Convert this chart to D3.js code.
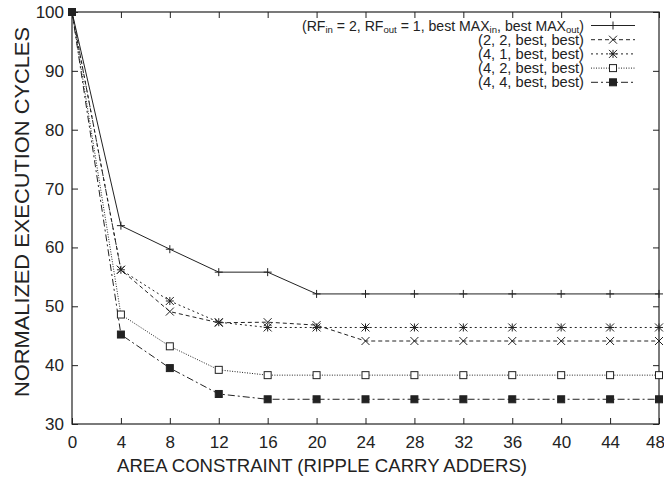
<!DOCTYPE html>
<html>
<head>
<meta charset="utf-8">
<script src="https://cdn.jsdelivr.net/npm/d3@7"></script>
<style>
  body { margin: 0; background: #fff; }
  text, tspan { font-family: "Liberation Sans", Arial, sans-serif; fill: #222; }
</style>
</head>
<body>
<div id="viz"></div>
<script>
var areaValues = [0, 4, 8, 12, 16, 20, 24, 28, 32, 36, 40, 44, 48];
var yTicks = [30, 40, 50, 60, 70, 80, 90, 100];

var rf21 = [100, 63.7, 59.7, 55.8, 55.8, 52.1, 52.1, 52.1, 52.1, 52.1, 52.1, 52.1, 52.1];
var rf22 = [100, 56.2, 49.1, 47.2, 47.3, 46.8, 44.1, 44.1, 44.1, 44.1, 44.1, 44.1, 44.1];
var rf41 = [100, 56.2, 50.9, 47.3, 46.4, 46.4, 46.4, 46.4, 46.4, 46.4, 46.4, 46.4, 46.4];
var rf42 = [100, 48.6, 43.2, 39.2, 38.3, 38.3, 38.3, 38.3, 38.3, 38.3, 38.3, 38.3, 38.3];
var rf44 = [100, 45.2, 39.5, 35.1, 34.2, 34.2, 34.2, 34.2, 34.2, 34.2, 34.2, 34.2, 34.2];

var seriesNames = ["rf21", "rf22", "rf41", "rf42", "rf44"];
var legendLabels = [null, "(2, 2, best, best)", "(4, 1, best, best)", "(4, 2, best, best)", "(4, 4, best, best)"];

var w = 664, h = 480;
var margin = {left: 72, right: 5, top: 12, bottom: 56};
var ink = "#222";

var svg = d3.select("#viz").append("svg")
    .attr("width", w)
    .attr("height", h);

var x = d3.scaleLinear().domain([0, 48]).range([margin.left, w - margin.right]);
var y = d3.scaleLinear().domain([30, 100]).range([h - margin.bottom, margin.top]);

var styles = [
    {dash: null, marker: "plus"},
    {dash: "4,3", marker: "cross"},
    {dash: "2,3", marker: "star"},
    {dash: "1,1.5", marker: "square"},
    {dash: "7,3,2,3", marker: "filled"}
];

var allSeries = [rf21, rf22, rf41, rf42, rf44].map(function(vals, i) {
    return {name: seriesNames[i], style: styles[i], points: vals.map(function(v, j) { return {x: areaValues[j], y: v}; })};
});

// frame
svg.append("rect")
    .attr("x", x(0)).attr("y", y(100))
    .attr("width", x(48) - x(0)).attr("height", y(30) - y(100))
    .attr("fill", "none").attr("stroke", ink).attr("stroke-width", 1.2);

// axes with inward ticks
var tickLen = 6;
var axBottom = svg.append("g").attr("transform", "translate(0," + y(30) + ")")
    .call(d3.axisBottom(x).tickValues(areaValues).tickSize(-tickLen).tickPadding(tickLen + 6));
var axTop = svg.append("g").attr("transform", "translate(0," + y(100) + ")")
    .call(d3.axisTop(x).tickValues(areaValues).tickSize(-tickLen).tickFormat(""));
var axLeft = svg.append("g").attr("transform", "translate(" + x(0) + ",0)")
    .call(d3.axisLeft(y).tickValues(yTicks).tickSize(-tickLen).tickPadding(tickLen + 2));
var axRight = svg.append("g").attr("transform", "translate(" + x(48) + ",0)")
    .call(d3.axisRight(y).tickValues(yTicks).tickSize(-tickLen).tickFormat(""));

[axBottom, axTop, axLeft, axRight].forEach(function(g) {
    g.select(".domain").remove();
    g.selectAll(".tick line").attr("stroke", ink);
    g.selectAll(".tick text").attr("font-size", 17).attr("fill", ink)
        .style("font-family", "'Liberation Sans', Arial, sans-serif");
});
// keep the last x label inside the page
axBottom.selectAll(".tick text").filter(function(d) { return d === 48; }).attr("dx", -4);

// axis titles
svg.append("text")
    .attr("x", 322).attr("y", 472)
    .attr("text-anchor", "middle").attr("font-size", 19)
    .attr("textLength", 410).attr("lengthAdjust", "spacingAndGlyphs")
    .text("AREA CONSTRAINT (RIPPLE CARRY ADDERS)");

svg.append("text")
    .attr("transform", "translate(29,212) rotate(-90)")
    .attr("text-anchor", "middle").attr("font-size", 20)
    .attr("textLength", 370).attr("lengthAdjust", "spacingAndGlyphs")
    .text("NORMALIZED EXECUTION CYCLES");

// markers
function drawMarker(g, type, cx, cy) {
    var s = 4;
    if (type === "plus" || type === "star") {
        g.append("line").attr("x1", cx - s).attr("x2", cx + s).attr("y1", cy).attr("y2", cy);
        g.append("line").attr("x1", cx).attr("x2", cx).attr("y1", cy - s).attr("y2", cy + s);
    }
    if (type === "cross" || type === "star") {
        g.append("line").attr("x1", cx - s).attr("x2", cx + s).attr("y1", cy - s).attr("y2", cy + s);
        g.append("line").attr("x1", cx - s).attr("x2", cx + s).attr("y1", cy + s).attr("y2", cy - s);
    }
    if (type === "square") {
        g.append("rect").attr("x", cx - 3.5).attr("y", cy - 3.5).attr("width", 7).attr("height", 7)
            .attr("fill", "#fff");
    }
    if (type === "filled") {
        g.append("rect").attr("x", cx - 3.5).attr("y", cy - 3.5).attr("width", 7).attr("height", 7)
            .attr("fill", ink);
    }
}

var line = d3.line().x(function(d) { return x(d.x); }).y(function(d) { return y(d.y); });

allSeries.forEach(function(s) {
    svg.append("path")
        .datum(s.points)
        .attr("class", "series " + s.name)
        .attr("d", line)
        .attr("fill", "none")
        .attr("stroke", ink)
        .attr("stroke-width", 1)
        .attr("stroke-dasharray", s.style.dash);
});

allSeries.forEach(function(s) {
    var g = svg.append("g").attr("stroke", ink).attr("stroke-width", 1);
    s.points.forEach(function(p) { drawMarker(g, s.style.marker, x(p.x), y(p.y)); });
});

// legend
var legend = svg.append("g").attr("class", "legend");
var legX = 584, legY0 = 25.5, legStep = 14.2;

allSeries.forEach(function(s, i) {
    var ly = legY0 + i * legStep;
    var t = legend.append("text")
        .attr("x", legX).attr("y", ly + 5)
        .attr("text-anchor", "end").attr("font-size", 14);
    if (i === 0) {
        t.attr("textLength", 282).attr("lengthAdjust", "spacingAndGlyphs");
        t.append("tspan").text("(RF");
        t.append("tspan").attr("font-size", 9.5).attr("dy", 2.5).text("in");
        t.append("tspan").attr("dy", -2.5).text(" = 2, RF");
        t.append("tspan").attr("font-size", 9.5).attr("dy", 2.5).text("out");
        t.append("tspan").attr("dy", -2.5).text(" = 1, best MAX");
        t.append("tspan").attr("font-size", 9.5).attr("dy", 2.5).text("in");
        t.append("tspan").attr("dy", -2.5).text(", best MAX");
        t.append("tspan").attr("font-size", 9.5).attr("dy", 2.5).text("out");
        t.append("tspan").attr("dy", -2.5).text(")");
    } else {
        t.attr("textLength", 106).attr("lengthAdjust", "spacingAndGlyphs")
            .text(legendLabels[i]);
    }
    legend.append("line")
        .attr("x1", 591).attr("x2", 635).attr("y1", ly).attr("y2", ly)
        .attr("stroke", ink).attr("stroke-width", 1)
        .attr("stroke-dasharray", s.style.dash);
    var mg = legend.append("g").attr("stroke", ink).attr("stroke-width", 1);
    drawMarker(mg, s.style.marker, 613, ly);
});
</script>
</body>
</html>
